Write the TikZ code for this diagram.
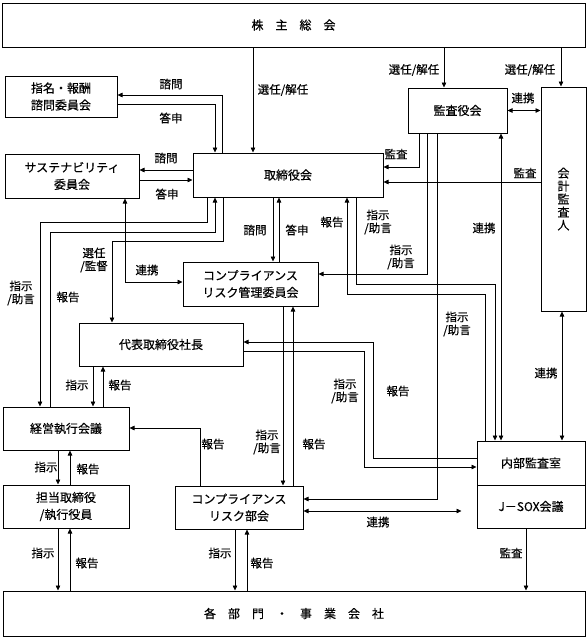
\documentclass[tikz,border=0pt]{standalone}
\usepackage{fontspec}
\setmainfont{Noto Sans CJK JP}[FakeBold=0.35]
\usetikzlibrary{arrows.meta}
\newcommand{\boxfont}{\fontsize{12}{17}\selectfont}
\newcommand{\labfont}{\fontsize{11.5}{13}\selectfont}
\begin{document}
\begin{tikzpicture}[x=1pt, y=-1pt,
	box/.style={draw, line width=1pt, inner sep=0pt, align=center, font=\boxfont},
	lab/.style={inner sep=0pt, align=center, font=\labfont},
	arr/.style={line width=0.7pt, -{Triangle[length=5pt,width=4.5pt]}},
	darr/.style={line width=0.7pt, {Triangle[length=5pt,width=4.5pt]}-{Triangle[length=5pt,width=4.5pt]}}]
			\useasboundingbox (0,0) rectangle (588,638);
			
			% Boxes
			\node[box, minimum width=583pt, minimum height=44pt] (sh) at (293.5,25) {株　主　総　会};
			\node[box, minimum width=112pt, minimum height=41pt] (nom) at (61,96.5) {指名・報酬\\諮問委員会};
			\node[box, minimum width=134pt, minimum height=44pt] (sus) at (72,176) {サステナビリティ\\委員会};
			\node[box, minimum width=190pt, minimum height=44pt] (bod) at (288,175) {取締役会};
			\node[box, minimum width=99pt, minimum height=45pt] (kan) at (457.5,110.5) {監査役会};
			\node[box, minimum width=45pt, minimum height=224pt, font=\fontsize{12}{13}\selectfont] (aud) at (563.5,199) {会\\計\\監\\査\\人};
			\node[box, minimum width=135pt, minimum height=44pt] (crm) at (250.5,284) {コンプライアンス\\リスク管理委員会};
			\node[box, minimum width=164pt, minimum height=43pt] (ceo) at (161,344.5) {代表取締役社長};
			\node[box, minimum width=126pt, minimum height=43pt] (exec) at (66,428.5) {経営執行会議};
			\node[box, minimum width=126pt, minimum height=43pt] (dir) at (66,506.5) {担当取締役\\/執行役員};
			\node[box, minimum width=128pt, minimum height=43pt] (crs) at (239,507.5) {コンプライアンス\\リスク部会};
			\node[box, minimum width=108pt, minimum height=44pt] (ia) at (531,463) {内部監査室};
			\node[box, minimum width=108pt, minimum height=43pt] (sox) at (531,506.5) {J－SOX会議};
			\node[box, minimum width=582pt, minimum height=45pt] (dept) at (294,613.5) {各　部　門　・　事　業　会　社};
			
			% Shareholders
			\draw[arr] (sh.south -| 253,0) -- (bod.north -| 253,0);
			\draw[arr] (sh.south -| 444,0) -- (kan.north -| 444,0);
			\draw[arr] (sh.south -| 561,0) -- (aud.north -| 561,0);
			\node[lab] (l1) at (283,90) {選任/解任};
			\node[lab] (l2) at (414,70) {選任/解任};
			\node[lab] (l3) at (530,70) {選任/解任};
			\draw[darr] (kan.east) -- (aud.west |- kan.east);
			\node[lab] (l4) at (523,98) {連携};
			
			% Board and committees
			\draw[arr] (bod.north -| 222,0) |- (nom.east |- 0,95);
			\draw[arr] (nom.east |- 0,104) -| (bod.north -| 215,0);
			\node[lab] (l5) at (171,84) {諮問};
			\node[lab] (l6) at (171,118) {答申};
			\draw[arr] (bod.west |- 0,170) -- (sus.east |- 0,170);
			\draw[arr] (sus.east |- 0,180) -- (bod.west |- 0,180);
			\node[lab] (l7) at (166,158) {諮問};
			\node[lab] (l8) at (167,194) {答申};
			\draw[arr] (bod.south -| 273,0) -- (crm.north -| 273,0);
			\draw[arr] (crm.north -| 279,0) -- (bod.south -| 279,0);
			\node[lab] (l9) at (255,230) {諮問};
			\node[lab] (l10) at (297,230) {答申};
			\draw[darr] (sus.south -| 125,0) |- (crm.west |- 0,282);
			\node[lab] (l11) at (147,270) {連携};
			
			% Board to execution
			\draw[arr] (bod.south -| 207,0) |- (40,222) -- (exec.north -| 40,0);
			\draw[arr] (exec.north -| 50,0) |- (215,232) -- (bod.south -| 215,0);
			\draw[arr] (bod.south -| 223,0) |- (112,241) -- (ceo.north -| 112,0);
			\node[lab] (l12) at (21,293) {指示\\/助言};
			\node[lab] (l13) at (68,297) {報告};
			\node[lab] (l14) at (94,260) {選任\\/監督};
			
			% Audit lines
			\draw[arr] (kan.south -| 419,0) |- (bod.east |- 0,167);
			\draw[arr] (aud.west |- 0,182) -- (bod.east |- 0,182);
			\node[lab] (l15) at (396,154) {監査};
			\node[lab] (l16) at (525,173) {監査};
			\draw[arr] (kan.south -| 427,0) |- (crm.east |- 0,274);
			\node[lab] (l17) at (401,257) {指示\\/助言};
			\draw[arr] (kan.south -| 437,0) |- (crs.east |- 0,499);
			\node[lab] (l18) at (457,324) {指示\\/助言};
			\draw[darr] (kan.south -| 501,0) -- (ia.north -| 501,0);
			\node[lab] (l19) at (484,228) {連携};
			\draw[darr] (aud.south -| 562,0) -- (ia.north -| 562,0);
			\node[lab] (l20) at (546,373) {連携};
			
			% Internal audit
			\draw[arr] (bod.south -| 356,0) |- (495,284) -- (ia.north -| 495,0);
			\draw[arr] (ia.north -| 485,0) |- (347,294) -- (bod.south -| 347,0);
			\node[lab] (l21) at (378,222) {指示\\/助言};
			\node[lab] (l22) at (332,222) {報告};
			\draw[arr] (ia.west |- 0,458) -| (373,342) -- (ceo.east |- 0,342);
			\draw[arr] (ceo.east |- 0,351) -| (364,467) -- (ia.west |- 0,467);
			\node[lab] (l23) at (345,391) {指示\\/助言};
			\node[lab] (l24) at (398,391) {報告};
			
			% President and meetings
			\draw[arr] (ceo.south -| 93,0) -- (exec.north -| 93,0);
			\draw[arr] (exec.north -| 103,0) -- (ceo.south -| 103,0);
			\node[lab] (l25) at (77,385) {指示};
			\node[lab] (l26) at (120,385) {報告};
			\draw[arr] (exec.south -| 58,0) -- (dir.north -| 58,0);
			\draw[arr] (dir.north -| 70,0) -- (exec.south -| 70,0);
			\node[lab] (l27) at (46,467) {指示};
			\node[lab] (l28) at (88,469) {報告};
			
			% Compliance
			\draw[arr] (crm.south -| 283,0) -- (crs.north -| 283,0);
			\draw[arr] (crs.north -| 293,0) -- (crm.south -| 293,0);
			\node[lab] (l29) at (267,442) {指示\\/助言};
			\node[lab] (l30) at (314,444) {報告};
			\draw[arr] (crs.north -| 200,0) |- (exec.east |- 0,428);
			\node[lab] (l31) at (213,444) {報告};
			\draw[darr, shorten >=15pt] (crs.east |- 0,511) -- (sox.west |- 0,511);
			\node[lab] (l32) at (378,522) {連携};
			
			% Departments
			\draw[arr] (dir.south -| 58,0) -- (dept.north -| 58,0);
			\draw[arr] (dept.north -| 70,0) -- (dir.south -| 70,0);
			\node[lab] (l33) at (43,553) {指示};
			\node[lab] (l34) at (87,563) {報告};
			\draw[arr] (crs.south -| 235,0) -- (dept.north -| 235,0);
			\draw[arr] (dept.north -| 247,0) -- (crs.south -| 247,0);
			\node[lab] (l35) at (220,553) {指示};
			\node[lab] (l36) at (262,563) {報告};
			\draw[arr] (sox.south -| 526,0) -- (dept.north -| 526,0);
			\node[lab] (l37) at (511,553) {監査};
		\end{tikzpicture}
\end{document}
